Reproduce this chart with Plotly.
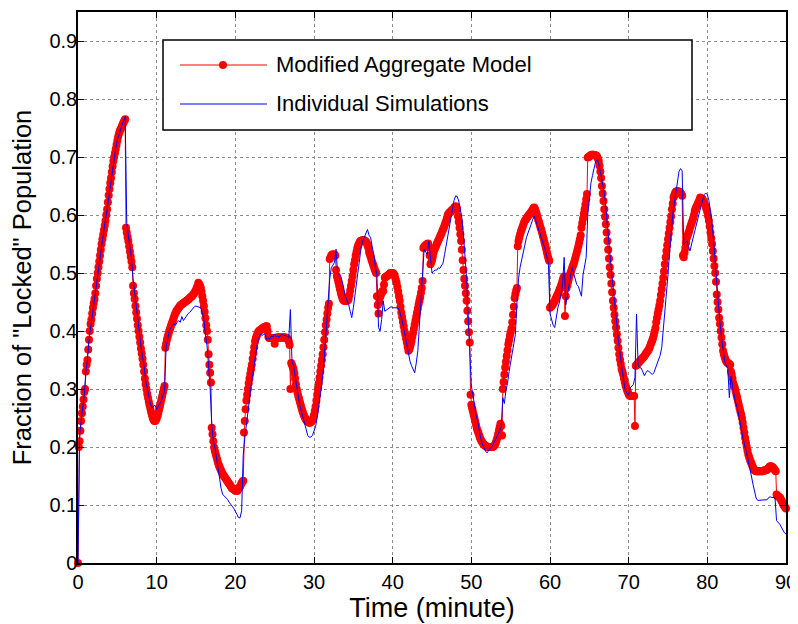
import plotly.graph_objects as go

# ---- data ----
# Modified Aggregate Model: one row per minute, samples every 0.1 min
red_rows = [
    [0.000, 0.200, 0.210, 0.228, 0.245, 0.258, 0.270, 0.282, 0.295, 0.300],
    [0.330, 0.342, 0.350, 0.368, 0.385, 0.400, 0.412, 0.420, 0.430, 0.440],
    [0.448, 0.455, 0.465, 0.478, 0.490, 0.500, 0.510, 0.520, 0.530, 0.540],
    [0.550, 0.558, 0.566, 0.574, 0.582, 0.590, 0.600, 0.610, 0.622, 0.634],
    [0.645, 0.655, 0.664, 0.674, 0.684, 0.693, 0.700, 0.707, 0.714, 0.721],
    [0.728, 0.735, 0.740, 0.744, 0.748, 0.750, 0.754, 0.757, 0.760, 0.763],
    [0.765, 0.578, 0.570, 0.562, 0.555, 0.546, 0.537, 0.528, 0.520, 0.510],
    [0.478, 0.465, 0.455, 0.443, 0.432, 0.421, 0.410, 0.400, 0.390, 0.380],
    [0.370, 0.361, 0.352, 0.342, 0.330, 0.318, 0.308, 0.300, 0.292, 0.285],
    [0.278, 0.272, 0.266, 0.260, 0.255, 0.250, 0.247, 0.245, 0.245, 0.246],
    [0.249, 0.253, 0.258, 0.264, 0.270, 0.276, 0.282, 0.288, 0.294, 0.300],
    [0.305, 0.371, 0.378, 0.385, 0.390, 0.395, 0.400, 0.404, 0.408, 0.412],
    [0.416, 0.420, 0.424, 0.428, 0.431, 0.434, 0.436, 0.438, 0.440, 0.442],
    [0.444, 0.445, 0.446, 0.447, 0.448, 0.449, 0.450, 0.451, 0.452, 0.453],
    [0.454, 0.455, 0.457, 0.458, 0.459, 0.460, 0.462, 0.464, 0.466, 0.468],
    [0.471, 0.474, 0.478, 0.483, 0.481, 0.478, 0.475, 0.468, 0.460, 0.452],
    [0.443, 0.433, 0.422, 0.410, 0.400, 0.385, 0.360, 0.342, 0.328, 0.311],
    [0.233, 0.222, 0.210, 0.199, 0.193, 0.188, 0.183, 0.178, 0.173, 0.169],
    [0.165, 0.162, 0.159, 0.156, 0.154, 0.151, 0.149, 0.147, 0.145, 0.143],
    [0.141, 0.139, 0.137, 0.135, 0.133, 0.130, 0.129, 0.128, 0.127, 0.126],
    [0.125, 0.124, 0.124, 0.125, 0.128, 0.130, 0.132, 0.135, 0.138, 0.140],
    [0.142, 0.225, 0.245, 0.265, 0.280, 0.290, 0.300, 0.310, 0.318, 0.326],
    [0.334, 0.342, 0.352, 0.362, 0.372, 0.382, 0.387, 0.391, 0.395, 0.398],
    [0.400, 0.401, 0.402, 0.403, 0.404, 0.405, 0.406, 0.407, 0.407, 0.408],
    [0.408, 0.400, 0.390, 0.388, 0.388, 0.388, 0.388, 0.388, 0.388, 0.386],
    [0.378, 0.386, 0.388, 0.389, 0.389, 0.389, 0.389, 0.389, 0.389, 0.389],
    [0.389, 0.389, 0.389, 0.389, 0.389, 0.388, 0.387, 0.385, 0.382, 0.376],
    [0.300, 0.345, 0.342, 0.338, 0.334, 0.327, 0.318, 0.308, 0.300, 0.294],
    [0.288, 0.283, 0.278, 0.273, 0.268, 0.263, 0.259, 0.255, 0.252, 0.249],
    [0.247, 0.245, 0.244, 0.243, 0.242, 0.242, 0.243, 0.244, 0.246, 0.250],
    [0.255, 0.262, 0.270, 0.280, 0.290, 0.300, 0.310, 0.320, 0.330, 0.340],
    [0.350, 0.360, 0.372, 0.385, 0.398, 0.410, 0.420, 0.430, 0.440, 0.447],
    [0.524, 0.527, 0.530, 0.532, 0.532, 0.532, 0.532, 0.530, 0.505, 0.495],
    [0.490, 0.484, 0.478, 0.472, 0.466, 0.461, 0.457, 0.454, 0.452, 0.452],
    [0.452, 0.452, 0.452, 0.453, 0.455, 0.462, 0.470, 0.478, 0.486, 0.495],
    [0.505, 0.515, 0.522, 0.530, 0.536, 0.543, 0.547, 0.550, 0.553, 0.555],
    [0.555, 0.556, 0.557, 0.557, 0.556, 0.555, 0.554, 0.552, 0.548, 0.544],
    [0.536, 0.532, 0.528, 0.523, 0.519, 0.515, 0.511, 0.507, 0.503, 0.500],
    [0.460, 0.445, 0.430, 0.450, 0.458, 0.462, 0.466, 0.469, 0.469, 0.480],
    [0.492, 0.493, 0.494, 0.495, 0.496, 0.497, 0.498, 0.500, 0.500, 0.500],
    [0.500, 0.499, 0.497, 0.493, 0.488, 0.483, 0.476, 0.468, 0.460, 0.452],
    [0.442, 0.432, 0.424, 0.416, 0.408, 0.400, 0.394, 0.387, 0.380, 0.373],
    [0.366, 0.368, 0.372, 0.377, 0.383, 0.390, 0.397, 0.404, 0.411, 0.418],
    [0.425, 0.432, 0.439, 0.446, 0.452, 0.458, 0.466, 0.474, 0.486, 0.543],
    [0.545, 0.547, 0.548, 0.549, 0.550, 0.551, 0.545, 0.530, 0.515, 0.518],
    [0.522, 0.528, 0.535, 0.540, 0.543, 0.546, 0.550, 0.553, 0.556, 0.559],
    [0.562, 0.565, 0.568, 0.572, 0.575, 0.578, 0.582, 0.586, 0.590, 0.595],
    [0.600, 0.602, 0.604, 0.605, 0.606, 0.608, 0.609, 0.610, 0.612, 0.614],
    [0.615, 0.614, 0.610, 0.598, 0.588, 0.578, 0.567, 0.555, 0.540, 0.522],
    [0.505, 0.490, 0.478, 0.465, 0.452, 0.435, 0.417, 0.398, 0.380, 0.290],
    [0.273, 0.267, 0.261, 0.255, 0.250, 0.244, 0.238, 0.232, 0.228, 0.224],
    [0.220, 0.216, 0.213, 0.210, 0.208, 0.206, 0.204, 0.203, 0.202, 0.201],
    [0.201, 0.200, 0.200, 0.200, 0.200, 0.200, 0.200, 0.200, 0.201, 0.202],
    [0.204, 0.207, 0.211, 0.216, 0.222, 0.228, 0.234, 0.240, 0.236, 0.220],
    [0.300, 0.312, 0.325, 0.337, 0.347, 0.357, 0.367, 0.377, 0.384, 0.392],
    [0.398, 0.404, 0.415, 0.428, 0.442, 0.457, 0.464, 0.470, 0.474, 0.546],
    [0.555, 0.561, 0.567, 0.571, 0.575, 0.579, 0.583, 0.587, 0.590, 0.592],
    [0.594, 0.596, 0.598, 0.600, 0.601, 0.603, 0.605, 0.607, 0.609, 0.612],
    [0.613, 0.610, 0.606, 0.602, 0.597, 0.592, 0.588, 0.583, 0.578, 0.574],
    [0.569, 0.564, 0.559, 0.553, 0.548, 0.542, 0.536, 0.530, 0.525, 0.521],
    [0.440, 0.442, 0.443, 0.445, 0.447, 0.449, 0.452, 0.455, 0.458, 0.461],
    [0.464, 0.467, 0.471, 0.474, 0.478, 0.482, 0.487, 0.492, 0.494, 0.426],
    [0.460, 0.474, 0.479, 0.485, 0.490, 0.496, 0.500, 0.504, 0.508, 0.512],
    [0.515, 0.520, 0.525, 0.530, 0.535, 0.540, 0.546, 0.552, 0.558, 0.565],
    [0.578, 0.586, 0.594, 0.602, 0.610, 0.618, 0.627, 0.636, 0.699, 0.700],
    [0.701, 0.702, 0.703, 0.704, 0.704, 0.704, 0.703, 0.703, 0.703, 0.702],
    [0.700, 0.697, 0.693, 0.685, 0.675, 0.664, 0.650, 0.637, 0.624, 0.610],
    [0.597, 0.584, 0.570, 0.555, 0.540, 0.525, 0.510, 0.497, 0.482, 0.467],
    [0.452, 0.440, 0.428, 0.417, 0.406, 0.394, 0.383, 0.371, 0.360, 0.351],
    [0.343, 0.335, 0.330, 0.325, 0.318, 0.312, 0.306, 0.302, 0.298, 0.295],
    [0.291, 0.289, 0.288, 0.288, 0.288, 0.288, 0.288, 0.288, 0.236, 0.340],
    [0.341, 0.343, 0.345, 0.346, 0.348, 0.349, 0.351, 0.352, 0.354, 0.355],
    [0.357, 0.359, 0.361, 0.363, 0.365, 0.367, 0.370, 0.373, 0.377, 0.380],
    [0.384, 0.388, 0.393, 0.399, 0.405, 0.415, 0.423, 0.430, 0.437, 0.444],
    [0.452, 0.462, 0.472, 0.482, 0.492, 0.503, 0.515, 0.527, 0.538, 0.548],
    [0.558, 0.568, 0.578, 0.588, 0.598, 0.610, 0.620, 0.630, 0.634, 0.638],
    [0.640, 0.641, 0.641, 0.641, 0.640, 0.640, 0.638, 0.636, 0.633, 0.530],
    [0.527, 0.535, 0.543, 0.552, 0.561, 0.565, 0.569, 0.573, 0.578, 0.582],
    [0.586, 0.590, 0.595, 0.600, 0.607, 0.611, 0.614, 0.617, 0.620, 0.623],
    [0.626, 0.630, 0.629, 0.628, 0.627, 0.624, 0.621, 0.618, 0.614, 0.610],
    [0.605, 0.598, 0.590, 0.580, 0.570, 0.560, 0.550, 0.538, 0.525, 0.512],
    [0.500, 0.485, 0.463, 0.450, 0.437, 0.423, 0.412, 0.400, 0.389, 0.377],
    [0.366, 0.360, 0.355, 0.351, 0.348, 0.346, 0.345, 0.344, 0.343, 0.342],
    [0.330, 0.325, 0.318, 0.310, 0.305, 0.302, 0.296, 0.290, 0.285, 0.279],
    [0.273, 0.267, 0.261, 0.256, 0.250, 0.242, 0.233, 0.225, 0.216, 0.208],
    [0.201, 0.194, 0.187, 0.183, 0.179, 0.175, 0.172, 0.168, 0.165, 0.162],
    [0.160, 0.159, 0.158, 0.158, 0.158, 0.158, 0.158, 0.158, 0.158, 0.158],
    [0.159, 0.159, 0.159, 0.160, 0.160, 0.160, 0.161, 0.162, 0.164, 0.166],
    [0.167, 0.167, 0.166, 0.165, 0.164, 0.162, 0.160, 0.158, 0.118, 0.116],
    [0.115, 0.114, 0.113, 0.111, 0.108, 0.106, 0.102, 0.100, 0.098, 0.096],
]
red_last = 0.094   # value at t = 90

# Individual Simulations: one row per minute, samples every 0.2 min
blue_rows = [
    [0.000, 0.220, 0.245, 0.265, 0.290], [0.330, 0.350, 0.385, 0.405, 0.425],
    [0.445, 0.465, 0.490, 0.510, 0.530], [0.550, 0.565, 0.585, 0.600, 0.620],
    [0.640, 0.660, 0.680, 0.695, 0.715], [0.730, 0.740, 0.748, 0.755, 0.762],
    [0.770, 0.585, 0.565, 0.545, 0.525], [0.490, 0.465, 0.440, 0.415, 0.400],
    [0.375, 0.355, 0.340, 0.315, 0.300], [0.285, 0.275, 0.268, 0.270, 0.272],
    [0.265, 0.270, 0.275, 0.280, 0.290], [0.295, 0.372, 0.385, 0.400, 0.405],
    [0.410, 0.412, 0.410, 0.415, 0.418], [0.415, 0.425, 0.418, 0.422, 0.428],
    [0.430, 0.432, 0.436, 0.440, 0.442], [0.443, 0.442, 0.442, 0.440, 0.432],
    [0.420, 0.395, 0.375, 0.340, 0.300], [0.240, 0.210, 0.200, 0.180, 0.160],
    [0.145, 0.128, 0.118, 0.115, 0.113], [0.110, 0.105, 0.102, 0.098, 0.094],
    [0.090, 0.084, 0.078, 0.078, 0.090], [0.185, 0.215, 0.240, 0.265, 0.285],
    [0.305, 0.325, 0.345, 0.365, 0.378], [0.388, 0.395, 0.392, 0.395, 0.394],
    [0.385, 0.388, 0.386, 0.392, 0.390], [0.395, 0.390, 0.392, 0.389, 0.393],
    [0.394, 0.392, 0.393, 0.390, 0.388], [0.437, 0.348, 0.340, 0.320, 0.302],
    [0.288, 0.272, 0.262, 0.252, 0.243], [0.232, 0.220, 0.217, 0.217, 0.220],
    [0.226, 0.235, 0.250, 0.268, 0.290], [0.310, 0.335, 0.366, 0.410, 0.452],
    [0.490, 0.509, 0.515, 0.518, 0.541], [0.500, 0.497, 0.494, 0.485, 0.469],
    [0.460, 0.452, 0.446, 0.434, 0.423], [0.440, 0.462, 0.486, 0.510, 0.532],
    [0.545, 0.555, 0.561, 0.570, 0.575], [0.565, 0.561, 0.545, 0.532, 0.510],
    [0.497, 0.406, 0.400, 0.420, 0.452], [0.434, 0.436, 0.438, 0.440, 0.442],
    [0.440, 0.440, 0.441, 0.440, 0.438], [0.429, 0.418, 0.405, 0.389, 0.375],
    [0.360, 0.348, 0.340, 0.334, 0.328], [0.345, 0.366, 0.410, 0.452, 0.500],
    [0.541, 0.536, 0.532, 0.555, 0.530], [0.500, 0.503, 0.505, 0.505, 0.509],
    [0.508, 0.512, 0.517, 0.532, 0.548], [0.565, 0.580, 0.595, 0.610, 0.625],
    [0.633, 0.632, 0.624, 0.612, 0.595], [0.565, 0.525, 0.490, 0.429, 0.360],
    [0.305, 0.290, 0.270, 0.255, 0.245], [0.228, 0.215, 0.205, 0.198, 0.193],
    [0.190, 0.195, 0.198, 0.200, 0.205], [0.210, 0.216, 0.222, 0.228, 0.235],
    [0.285, 0.275, 0.298, 0.310, 0.330], [0.350, 0.362, 0.378, 0.394, 0.450],
    [0.490, 0.510, 0.521, 0.535, 0.548], [0.561, 0.570, 0.578, 0.584, 0.592],
    [0.598, 0.590, 0.582, 0.575, 0.568], [0.560, 0.552, 0.540, 0.528, 0.515],
    [0.430, 0.420, 0.410, 0.406, 0.425], [0.440, 0.450, 0.462, 0.480, 0.527],
    [0.445, 0.460, 0.480, 0.495, 0.510], [0.500, 0.488, 0.480, 0.477, 0.470],
    [0.460, 0.497, 0.512, 0.527, 0.600], [0.630, 0.655, 0.668, 0.680, 0.692],
    [0.695, 0.688, 0.675, 0.662, 0.645], [0.628, 0.595, 0.561, 0.535, 0.505],
    [0.478, 0.455, 0.425, 0.395, 0.372], [0.345, 0.330, 0.312, 0.297, 0.292],
    [0.290, 0.302, 0.305, 0.308, 0.320], [0.429, 0.340, 0.337, 0.336, 0.330],
    [0.323, 0.328, 0.332, 0.330, 0.328], [0.325, 0.328, 0.335, 0.342, 0.348],
    [0.358, 0.371, 0.400, 0.429, 0.462], [0.497, 0.535, 0.570, 0.600, 0.620],
    [0.640, 0.658, 0.675, 0.680, 0.676], [0.549, 0.553, 0.555, 0.545, 0.538],
    [0.550, 0.562, 0.572, 0.585, 0.595], [0.605, 0.615, 0.625, 0.635, 0.638],
    [0.635, 0.625, 0.605, 0.585, 0.555], [0.520, 0.470, 0.440, 0.415, 0.390],
    [0.366, 0.348, 0.340, 0.335, 0.285], [0.322, 0.305, 0.290, 0.276, 0.268],
    [0.256, 0.240, 0.225, 0.210, 0.200], [0.190, 0.178, 0.164, 0.150, 0.136],
    [0.125, 0.112, 0.108, 0.108, 0.108], [0.108, 0.108, 0.108, 0.109, 0.113],
    [0.114, 0.113, 0.113, 0.113, 0.073], [0.070, 0.067, 0.062, 0.057, 0.052],
]
blue_last = 0.050  # value at t = 90

x_ticks = [0, 10, 20, 30, 40, 50, 60, 70, 80, 90]
y_ticks = [0, 0.1, 0.2, 0.3, 0.4, 0.5, 0.6, 0.7, 0.8, 0.9]
y_tick_text = ["0", "0.1", "0.2", "0.3", "0.4", "0.5", "0.6", "0.7", "0.8", "0.9"]
names = ["Modified Aggregate Model", "Individual Simulations"]


def expand(rows, step, last):
    t, v = [], []
    for minute, row in enumerate(rows):
        for i, val in enumerate(row):
            t.append(round(minute + i * step, 3))
            v.append(val)
    t.append(float(len(rows)))
    v.append(last)
    return t, v


t_red, v_red = expand(red_rows, 0.1, red_last)
t_blue, v_blue = expand(blue_rows, 0.2, blue_last)

FONT = "Liberation Sans, Arial, sans-serif"
RED = "#ff0000"
BLUE = "#0000ff"

fig = go.Figure()
fig.add_trace(go.Scatter(
    x=t_red, y=v_red, name=names[0], mode="lines+markers",
    line=dict(color=RED, width=1),
    marker=dict(color=RED, size=8, symbol="circle", line=dict(width=0)),
    showlegend=False, cliponaxis=False,
))
fig.add_trace(go.Scatter(
    x=t_blue, y=v_blue, name=names[1], mode="lines",
    line=dict(color=BLUE, width=1),
    showlegend=False,
))

# The page body adds an 8 px offset, so the figure starts at page (8, 8);
# the plot area sits at page pixels x 78..786, y 12..563.
OFF = 8
FIG_W, FIG_H = 798 - OFF, 624 - OFF
L, R, T, B = 78, 786, 12, 563          # page pixels of the plot area
W, H = R - L, B - T


def px(x):
    return (x - L) / W


def py(y):
    return (B - y) / H


shapes = [
    dict(type="rect", xref="paper", yref="paper", x0=px(163), x1=px(692), y0=py(130), y1=py(40),
         fillcolor="white", line=dict(color="black", width=1.5), layer="above"),
    dict(type="line", xref="paper", yref="paper", x0=px(180), x1=px(267), y0=py(65), y1=py(65),
         line=dict(color=RED, width=1), layer="above"),
    dict(type="circle", xref="paper", yref="paper", x0=px(223 - 4), x1=px(223 + 4),
         y0=py(65 + 4), y1=py(65 - 4), fillcolor=RED, line=dict(color=RED, width=0), layer="above"),
    dict(type="line", xref="paper", yref="paper", x0=px(180), x1=px(267), y0=py(104), y1=py(104),
         line=dict(color=BLUE, width=1), layer="above"),
]
annotations = [
    dict(text=names[0], xref="paper", yref="paper", x=px(274), y=py(65), xanchor="left", yanchor="middle",
         showarrow=False, font=dict(family=FONT, size=22, color="black")),
    dict(text=names[1], xref="paper", yref="paper", x=px(274), y=py(104), xanchor="left", yanchor="middle",
         showarrow=False, font=dict(family=FONT, size=22, color="black")),
]

axis_common = dict(
    showline=True, linecolor="black", linewidth=1.5, mirror="ticks",
    ticks="inside", ticklen=6, tickwidth=1, tickcolor="black",
    showgrid=True, gridcolor="#8c8c8c", gridwidth=1, griddash="dot",
    zeroline=False, automargin=False,
    tickfont=dict(family=FONT, size=20, color="black"),
)

fig.update_layout(
    width=FIG_W, height=FIG_H,
    margin=dict(l=L - OFF, r=798 - R, t=T - OFF, b=FIG_H - (B - OFF)),
    paper_bgcolor="white", plot_bgcolor="white",
    font=dict(family=FONT, color="black"),
    shapes=shapes, annotations=annotations,
    xaxis=dict(range=[0, 90], tickvals=x_ticks, ticktext=[str(v) for v in x_ticks],
               title=dict(text="Time (minute)", font=dict(family=FONT, size=27, color="black"), standoff=6),
               **axis_common),
    yaxis=dict(range=[0, 0.95], tickvals=y_ticks, ticktext=y_tick_text, ticklabelstandoff=-5,
               title=dict(text='Fraction of "Locked" Population', font=dict(family=FONT, size=25.5, color="black"), standoff=11),
               **axis_common),
    showlegend=False,
)

fig.write_html("out.html")
